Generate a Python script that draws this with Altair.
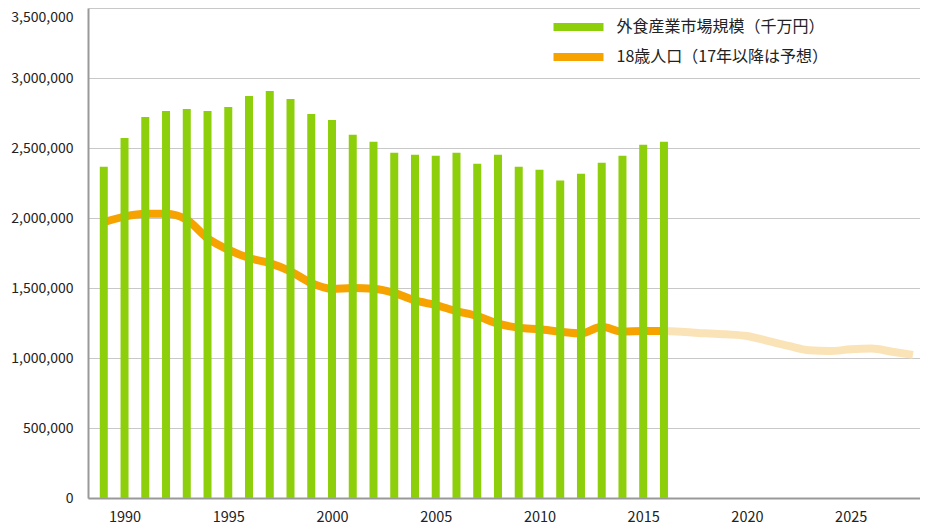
import altair as alt
import pandas as pd

# ---- data ----
bar_years = list(range(1989, 2017))
market = [2366000, 2572000, 2722000, 2764000, 2779000, 2764000, 2793000, 2871000,
          2907000, 2850000, 2743000, 2700000, 2594000, 2544000, 2466000, 2452000,
          2444000, 2466000, 2388000, 2452000, 2366000, 2345000, 2267000, 2316000,
          2395000, 2444000, 2523000, 2544000]

pop_years = list(range(1989, 2017))
pop_actual = [1970000, 2010000, 2030000, 2030000, 1987000, 1856000, 1774000, 1714000,
              1678000, 1619000, 1536000, 1494000, 1500000, 1494000, 1465000, 1411000,
              1378000, 1335000, 1299000, 1245000, 1216000, 1205000, 1188000, 1176000,
              1223000, 1188000, 1193000, 1193000]

fc_years = list(range(2016, 2029))
pop_forecast = [1193000, 1186000, 1176000, 1169000, 1157000, 1122000, 1086000,
                1055000, 1050000, 1062000, 1067000, 1045000, 1022000]

series_names = ["外食産業市場規模（千万円）", "18歳人口（17年以降は予想）"]
x_ticks = [1990, 1995, 2000, 2005, 2010, 2015, 2020, 2025]
y_ticks = [0, 500000, 1000000, 1500000, 2000000, 2500000, 3000000, 3500000]

GREEN = "#8dcf0a"
ORANGE = "#f6a300"
PALE = "#fbe3b8"
FONT = "Noto Sans CJK JP"

bars_df = pd.DataFrame({"year": bar_years, "value": market, "series": series_names[0]})
pop_df = pd.DataFrame({"year": pop_years, "value": pop_actual})
fc_df = pd.DataFrame({"year": fc_years, "value": pop_forecast})

x_scale = alt.Scale(domain=[1988.48, 2028.1], nice=False, zero=False)
y_scale = alt.Scale(domain=[0, 3500000], nice=False)

x_axis = alt.Axis(values=x_ticks, format="d", title=None, grid=False, ticks=False,
                  labelFontSize=14.5, labelPadding=12, labelColor="#222",
                  labelFont=FONT, domainColor="#999999", domainWidth=2,
                  labelFlush=False)
y_axis = alt.Axis(values=y_ticks, format=",d", title=None, grid=True,
                  gridColor="#c8c8c8", gridWidth=1, ticks=False,
                  labelFontSize=14, labelPadding=15, labelColor="#222",
                  labelFont=FONT, domainColor="#999999", domainWidth=2,
                  labelBaseline={"condition": {"test": "datum.value >= 3500000",
                                               "value": "top"},
                                 "value": "middle"},
                  labelOffset={"condition": {"test": "datum.value >= 3500000",
                                             "value": 2},
                               "value": 0})

fc_line = alt.Chart(fc_df).mark_line(
    color=PALE, strokeWidth=8, interpolate="monotone", strokeCap="butt"
).encode(
    x=alt.X("year:Q", scale=x_scale, axis=x_axis),
    y=alt.Y("value:Q", scale=y_scale, axis=y_axis),
)

pop_line = alt.Chart(pop_df).mark_line(
    color=ORANGE, strokeWidth=8, interpolate="monotone", strokeCap="butt"
).encode(
    x=alt.X("year:Q", scale=x_scale),
    y=alt.Y("value:Q", scale=y_scale),
)

bars = alt.Chart(bars_df).mark_bar(size=8).encode(
    x=alt.X("year:Q", scale=x_scale),
    y=alt.Y("value:Q", scale=y_scale),
    color=alt.Color(
        "series:N",
        scale=alt.Scale(domain=series_names, range=[GREEN, ORANGE]),
        legend=alt.Legend(
            title=None, orient="none", legendX=482, legendY=10.5,
            symbolType="M-2.94,-0.47H2.94V0.47H-2.94Z", symbolSize=289,
            symbolStrokeWidth=0, labelFont=FONT, labelFontSize=16,
            labelColor="#222", labelOffset=29.5, rowPadding=13, padding=0,
            labelLimit=400,
        ),
    ),
)

chart = alt.layer(fc_line, pop_line, bars).properties(
    width=832, height=490,
    autosize=alt.AutoSizeParams(type="none"),
    padding={"left": 80, "top": 0, "right": 0, "bottom": 27},
    background="white",
).configure_view(stroke=None)

chart.save("out.html", embed_options={"renderer": "svg", "actions": False})
